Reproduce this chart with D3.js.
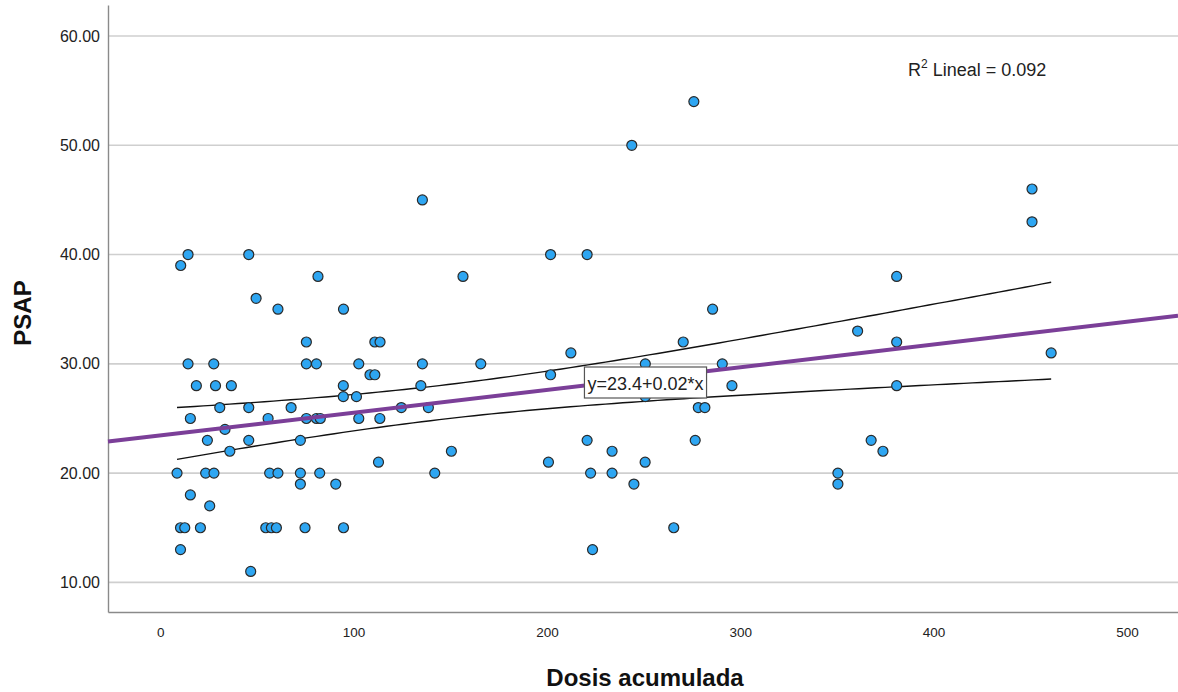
<!DOCTYPE html>
<html><head><meta charset="utf-8">
<script src="https://cdn.jsdelivr.net/npm/d3@7"></script>
<style>body{margin:0;background:#fff}svg{display:block;font-family:"Liberation Sans",Arial,sans-serif}</style>
</head><body><svg id="c" width="1178" height="692"></svg>
<script>
const dosis = [14.4,10.6,45.8,81.6,49.6,60.9,94.8,75.6,111.0,113.7,14.4,27.7,75.6,80.8,102.7,108.5,111.0,18.7,28.6,36.8,94.7,94.7,101.5,30.8,45.8,67.7,15.6,55.8,75.6,80.8,82.8,102.7,113.6,124.7,33.5,24.4,45.8,72.5,36.0,112.9,8.7,23.5,27.8,56.6,60.9,72.5,72.5,82.5,90.8,15.6,25.6,10.5,12.7,20.8,54.6,57.5,60.1,74.9,94.8,10.5,46.8,135.6,201.9,220.8,156.6,285.7,270.5,212.4,135.6,165.8,250.9,290.7,201.9,134.8,295.7,250.9,138.7,278.3,281.7,220.8,276.7,150.6,233.7,200.8,250.8,142.0,222.6,233.7,245.0,265.6,223.6,243.9,276.0,450.9,450.9,380.9,360.7,380.9,460.8,380.9,367.7,373.8,350.5,350.5];
const psap = [40,39,40,38,36,35,35,32,32,32,30,30,30,30,30,29,29,28,28,28,28,27,27,26,26,26,25,25,25,25,25,25,25,26,24,23,23,23,22,21,20,20,20,20,20,20,19,20,19,18,17,15,15,15,15,15,15,15,15,13,11,45,40,40,38,35,32,31,30,30,30,30,29,28,28,27,26,26,26,23,23,22,22,21,21,20,20,20,19,15,13,50,54,46,43,38,33,32,31,28,23,22,20,19];
const yTicks = [10,20,30,40,50,60];
const xTicks = [0,100,200,300,400,500];
const fitIntercept = 23.45, fitSlope = 0.0208;
const r2Text = "0.092";

const svg = d3.select("#c");
const L = 108, R = 1178, T = 5, B = 612;
const x = d3.scaleLinear().domain([-27, 526.4]).range([L, R]);
const y = d3.scaleLinear().domain([7.29, 62.84]).range([B, T]);

// gridlines
svg.append("g").selectAll("line").data(yTicks).join("line")
  .attr("x1", L).attr("x2", R).attr("y1", d => y(d)).attr("y2", d => y(d))
  .attr("stroke", "#cfcfcf").attr("stroke-width", 1.6);

// axes
const yAx = svg.append("g").attr("transform", `translate(${L},0)`)
  .call(d3.axisLeft(y).tickValues(yTicks).tickFormat(d3.format(".2f")).tickSize(0).tickPadding(8));
const xAx = svg.append("g").attr("transform", `translate(0,${B})`)
  .call(d3.axisBottom(x).tickValues(xTicks).tickFormat(d3.format("d")).tickSize(0).tickPadding(15));
[yAx, xAx].forEach(g => {
  g.select(".domain").attr("stroke", "#8a8a8a").attr("stroke-width", 1.4);
  g.selectAll("text").attr("fill", "#222").attr("font-family", "Liberation Sans, Arial");
});
yAx.selectAll("text").attr("font-size", 16);
xAx.selectAll("text").attr("font-size", 13.5);

// regression CI from data residuals
const n = dosis.length;
const xm = d3.mean(dosis);
let sxx = 0;
for (let i = 0; i < n; i++) sxx += (dosis[i]-xm)**2;
const b = fitSlope, a = fitIntercept;
let sse = 0;
for (let i = 0; i < n; i++) sse += (psap[i] - (a + b*dosis[i]))**2;
const s = Math.sqrt(sse/(n-2)), tq = 1.983;
const [xmin, xmax] = d3.extent(dosis);
const steps = d3.range(0, 101).map(i => xmin + (xmax - xmin)*i/100);
const hw = xv => tq*s*Math.sqrt(1/n + (xv-xm)**2/sxx);
const line = d3.line().x(d => x(d[0])).y(d => y(d[1]));

svg.append("path").attr("d", line(steps.map(v => [v, a + b*v + hw(v)])))
  .attr("fill","none").attr("stroke","#111").attr("stroke-width",1.4);
svg.append("path").attr("d", line(steps.map(v => [v, a + b*v - hw(v)])))
  .attr("fill","none").attr("stroke","#111").attr("stroke-width",1.4);

// points
svg.append("g").selectAll("circle").data(dosis.map((d,i)=>[d,psap[i]])).join("circle")
  .attr("cx", d => x(d[0])).attr("cy", d => y(d[1])).attr("r", 5)
  .attr("fill", "#2ea6f2").attr("stroke", "#2a2a2a").attr("stroke-width", 1.2);

// fit line across the plot
const xd = x.domain();
svg.append("path").attr("d", line([[xd[0], a + b*xd[0]], [xd[1], a + b*xd[1]]]))
  .attr("stroke", "#7b3f98").attr("stroke-width", 4).attr("fill", "none");

// equation label
const lg = svg.append("g");
const lt = lg.append("text").attr("x", 645.5).attr("y", 389.5).attr("text-anchor","middle")
  .attr("font-size", 18).attr("fill","#222").text("y=23.4+0.02*x");
const bb = lt.node().getBBox();
lg.insert("rect","text").attr("x", bb.x-3).attr("y", 367).attr("width", bb.width+6).attr("height", 31)
  .attr("fill","#fff").attr("stroke","#555").attr("stroke-width",1.2);

// R2 label
const rt = svg.append("text").attr("x", 908).attr("y", 76).attr("font-size", 18).attr("fill","#222");
rt.append("tspan").text("R");
rt.append("tspan").attr("dy", -8).attr("font-size", 12).text("2");
rt.append("tspan").attr("dy", 8).text(" Lineal = " + r2Text);

// axis titles
svg.append("text").attr("x", 645).attr("y", 686).attr("text-anchor","middle")
  .attr("font-size", 24).attr("font-weight","bold").attr("fill","#111").text("Dosis acumulada");
svg.append("text").attr("transform","translate(31,313) rotate(-90)").attr("text-anchor","middle")
  .attr("font-size", 24).attr("font-weight","bold").attr("fill","#111").text("PSAP");
</script></body></html>
